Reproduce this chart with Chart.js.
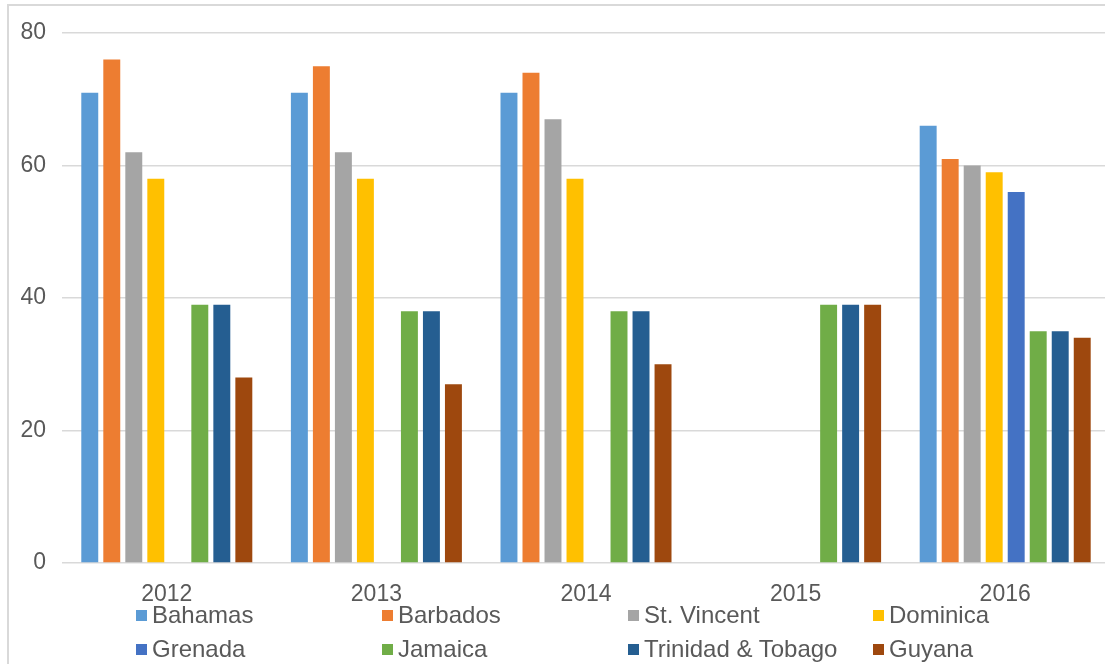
<!DOCTYPE html>
<html>
<head>
<meta charset="utf-8">
<script src="https://cdn.jsdelivr.net/npm/chart.js@4.4.0/dist/chart.umd.min.js"></script>
<style>
  html, body { margin: 0; padding: 0; background: #fff; overflow: hidden; }
  body { width: 1105px; height: 664px; position: relative; }
  .frame { position: absolute; left: 7px; top: 4px; width: 1200px; height: 800px; border: 2px solid #d9d9d9; }
  #chart { position: absolute; left: 0; top: 0; }
  .legend-item { position: absolute; height: 30px; display: flex; align-items: center;
    font-family: "Liberation Sans", Arial, sans-serif; font-size: 24px; color: #595959; white-space: nowrap; }
  .legend-item span.box { width: 11px; height: 11px; margin-right: 5px; display: inline-block; }
</style>
</head>
<body>
<div class="frame"></div>
<canvas id="chart" width="1112" height="664"></canvas>
<div id="legend"></div>
<script>
// data
const years = ['2012', '2013', '2014', '2015', '2016'];
const countries = ['Bahamas', 'Barbados', 'St. Vincent', 'Dominica', 'Grenada', 'Jamaica', 'Trinidad & Tobago', 'Guyana'];
const bahamas    = [71, 71, 71, null, 66];
const barbados   = [76, 75, 74, null, 61];
const stVincent  = [62, 62, 67, null, 60];
const dominica   = [58, 58, 58, null, 59];
const grenada    = [null, null, null, null, 56];
const jamaica    = [39, 38, 38, 39, 35];
const trinidad   = [39, 38, 38, 39, 35];
const guyana     = [28, 27, 30, 39, 34];
const yTicks = [0, 20, 40, 60, 80];

const colors = ['#5B9BD5', '#ED7D31', '#A5A5A5', '#FFC000', '#4472C4', '#70AD47', '#255E91', '#9E480E'];
const seriesValues = [bahamas, barbados, stVincent, dominica, grenada, jamaica, trinidad, guyana];

const textColor = '#595959';
const font = { family: '"Liberation Sans", Arial, sans-serif', size: 23 };

const datasets = countries.map((name, i) => ({
  label: name,
  data: seriesValues[i],
  backgroundColor: colors[i],
  borderWidth: 0,
  categoryPercentage: 0.84,
  barPercentage: 0.77,
}));

const chart = new Chart(document.getElementById('chart'), {
  type: 'bar',
  data: { labels: years, datasets: datasets },
  options: {
    responsive: false,
    animation: false,
    layout: { padding: { top: 33, bottom: 61, left: 0, right: 2 } },
    plugins: {
      legend: { display: false },
      tooltip: { enabled: false },
    },
    scales: {
      x: {
        grid: { display: false },
        border: { display: false },
        ticks: { color: textColor, font: font, padding: 10, maxRotation: 0 },
        afterFit: (scale) => { scale.height = 40; },
      },
      y: {
        min: yTicks[0],
        max: yTicks[yTicks.length - 1],
        afterBuildTicks: (scale) => { scale.ticks = yTicks.map(v => ({ value: v })); },
        grid: { color: '#d9d9d9', lineWidth: 1.5, drawTicks: false },
        border: { display: false },
        ticks: { color: textColor, font: font, padding: 16 },
        afterFit: (scale) => { scale.width = 62; },
      },
    },
  },
});

// legend in 4 columns like the original
const legendCols = [136, 382, 628, 873];
const legendRows = [600, 634];
const legendEl = document.getElementById('legend');
chart.data.datasets.forEach((ds, i) => {
  const item = document.createElement('div');
  item.className = 'legend-item';
  item.style.left = legendCols[i % 4] + 'px';
  item.style.top = legendRows[Math.floor(i / 4)] + 'px';
  const box = document.createElement('span');
  box.className = 'box';
  box.style.background = ds.backgroundColor;
  item.appendChild(box);
  item.appendChild(document.createTextNode(ds.label));
  legendEl.appendChild(item);
});
</script>
</body>
</html>
